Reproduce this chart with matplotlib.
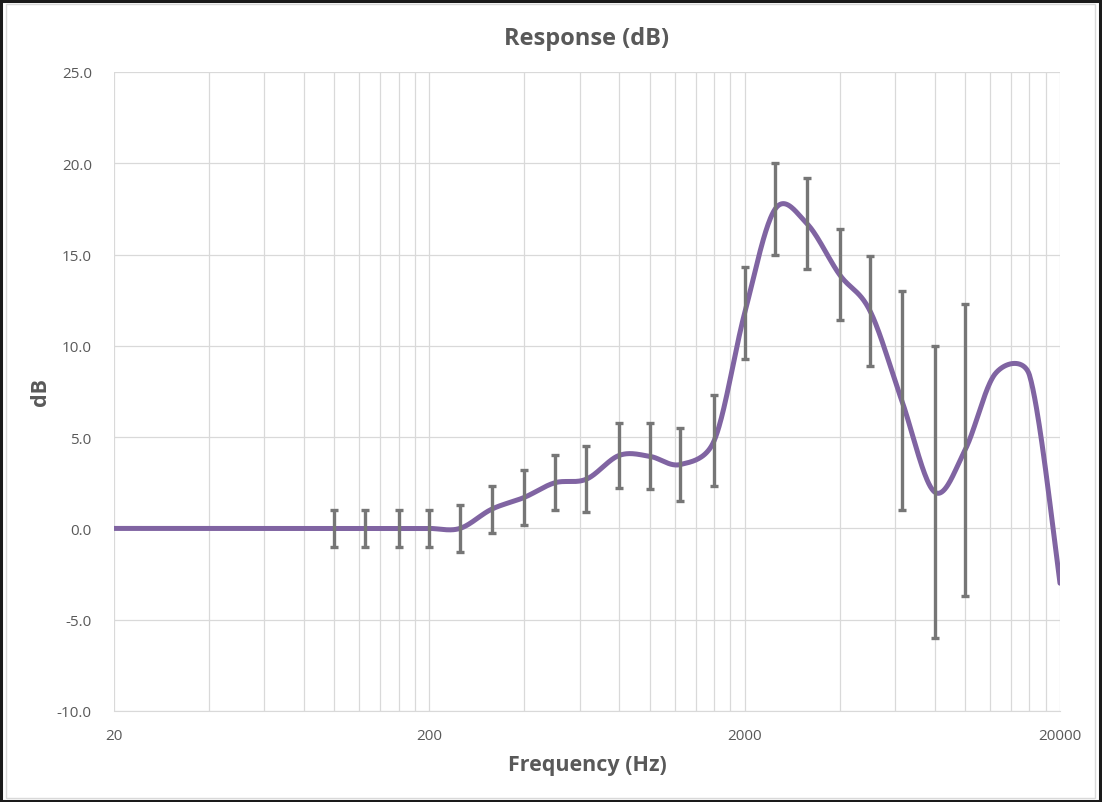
import numpy as np
import matplotlib
matplotlib.use("Agg")
import matplotlib.pyplot as plt
from matplotlib.patches import Rectangle
from matplotlib.ticker import FixedLocator, NullFormatter, FixedFormatter

# ---- data ----
freq = [20, 25, 31.5, 40, 50, 63, 80, 100, 125, 160, 200, 250, 315, 400, 500, 630,
        800, 1000, 1250, 1600, 2000, 2500, 3150, 4000, 5000, 6300, 8000, 10000,
        12500, 16000, 20000]
response_db = [0, 0, 0, 0, 0, 0, 0, 0, 0, 0, 0, 0.0, 1.05, 1.7, 2.5, 2.7,
               4.0, 3.95, 3.5, 4.8, 11.8, 17.5, 16.7, 13.9, 11.9, 7.0, 2.0, 4.3,
               8.5, 8.4, -3.0]
err_freq = [100, 125, 160, 200, 250, 315, 400, 500, 630, 800, 1000, 1250, 1600,
            2000, 2500, 3150, 4000, 5000, 6300, 8000, 10000]
err_db = [1.0, 1.0, 1.0, 1.0, 1.3, 1.3, 1.5, 1.5, 1.8, 1.8, 1.8, 2.0, 2.5,
          2.5, 2.5, 2.5, 2.5, 3.0, 6.0, 8.0, 8.0]
x_major = [20, 200, 2000, 20000]
x_major_labels = ["20", "200", "2000", "20000"]
y_ticks = [-10, -5, 0, 5, 10, 15, 20, 25]

TEXT = "#595959"
GRID = "#d9d9d9"
LINE = "#8064a2"
ERR = "#767676"


def excel_smooth(ax, xs, ys, n=40):
    """Bezier smoothing like Excel's smoothed line, computed in display space."""
    P = ax.transData.transform(np.column_stack([xs, ys]))
    m = len(P)
    t = np.linspace(0, 1, n)[:, None]
    out = []
    for i in range(m - 1):
        p0 = P[i - 1] if i > 0 else P[i]
        p1 = P[i]
        p2 = P[i + 1]
        p3 = P[i + 2] if i + 2 < m else P[i + 1]
        chord = np.hypot(*(p2 - p1))
        h1 = (p2 - p0) / 6.0
        h2 = (p3 - p1) / 6.0
        lim = chord / 2.0
        for h in (h1, h2):
            L = np.hypot(*h)
            if L > lim and L > 0:
                h *= lim / L
        c1 = p1 + h1
        c2 = p2 - h2
        seg = ((1 - t) ** 3) * p1 + 3 * ((1 - t) ** 2) * t * c1 + 3 * (1 - t) * t ** 2 * c2 + t ** 3 * p2
        out.append(seg if i == 0 else seg[1:])
    arr = ax.transData.inverted().transform(np.vstack(out))
    return arr[:, 0], arr[:, 1]


plt.rcParams['font.family'] = ['Open Sans', 'DejaVu Sans']

fig = plt.figure(figsize=(11.02, 8.03), dpi=100)
ax = fig.add_axes([114 / 1102, 1 - 712 / 803, (1060 - 114) / 1102, (712 - 73) / 803])

ax.set_xscale("log")
ax.set_xlim(20, 20000)
ax.set_ylim(-10, 25)

minors = [20 * k * 10 ** n for n in range(3) for k in range(2, 10)]
ax.xaxis.set_major_locator(FixedLocator(x_major))
ax.xaxis.set_major_formatter(FixedFormatter(x_major_labels))
ax.xaxis.set_minor_locator(FixedLocator(minors))
ax.xaxis.set_minor_formatter(NullFormatter())
ax.set_yticks(y_ticks)
ax.set_yticklabels([f"{v:.1f}" for v in y_ticks])

ax.grid(True, which="both", axis="x", color=GRID, lw=0.9)
ax.grid(True, which="major", axis="y", color=GRID, lw=0.9)
ax.set_axisbelow(True)
for s in ax.spines.values():
    s.set_visible(False)
ax.spines['bottom'].set_visible(True)
ax.spines['bottom'].set_color(GRID)
ax.tick_params(which="both", length=0, colors=TEXT, labelsize=11)
ax.tick_params(axis="x", pad=12)
ax.tick_params(axis="y", pad=16)

# smoothed curve
sx, sy = excel_smooth(ax, freq, response_db)
ax.plot(sx, sy, color=LINE, lw=3.6, solid_capstyle="round", zorder=3)

# error bars
ey = [response_db[freq.index(f)] for f in err_freq]
ax.errorbar(err_freq, ey, yerr=err_db, fmt="none", ecolor=ERR, elinewidth=2.4,
            capsize=2.8, capthick=2.4, zorder=4)

ax.set_title("Response (dB)", color=TEXT, fontsize=17, fontweight="bold", pad=20)
ax.set_xlabel("Frequency (Hz)", color=TEXT, fontsize=15.5, fontweight="bold", labelpad=8)
ax.set_ylabel("dB", color=TEXT, fontsize=15.5, fontweight="bold", labelpad=4)

# outer frame
fig.patches.append(Rectangle((0.001, 0.001), 0.997, 0.997, transform=fig.transFigure,
                             fill=False, edgecolor="#1a1a1a", lw=2.2))
fig.patches.append(Rectangle((0.005, 0.005), 0.989, 0.989, transform=fig.transFigure,
                             fill=False, edgecolor="#d9d9d9", lw=1.0))

fig.savefig("out.png", dpi=100)
